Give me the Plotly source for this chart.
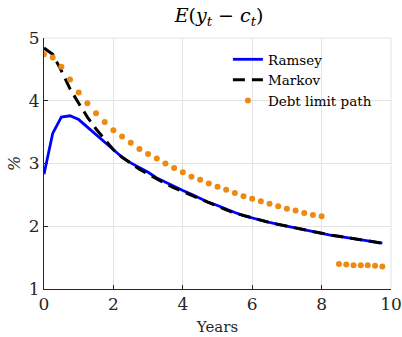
import plotly.graph_objects as go

# ---- data ----
t = [0, 0.25, 0.5, 0.75, 1.0, 1.25, 1.5, 1.75, 2.0, 2.25, 2.5, 2.75, 3.0, 3.25, 3.5, 3.75,
     4.0, 4.25, 4.5, 4.75, 5.0, 5.25, 5.5, 5.75, 6.0, 6.25, 6.5, 6.75, 7.0, 7.25, 7.5, 7.75,
     8.0, 8.25, 8.5, 8.75, 9.0, 9.25, 9.5, 9.75]
ramsey = [2.83, 3.48, 3.74, 3.76, 3.70, 3.58, 3.45, 3.33, 3.21, 3.10, 3.01, 2.94, 2.86, 2.77,
          2.70, 2.63, 2.57, 2.51, 2.44, 2.38, 2.33, 2.27, 2.22, 2.17, 2.13, 2.10, 2.06, 2.03,
          2.00, 1.97, 1.94, 1.91, 1.89, 1.86, 1.84, 1.82, 1.79, 1.77, 1.75, 1.73]
markov = [4.84, 4.74, 4.48, 4.19, 3.96, 3.74, 3.55, 3.38, 3.22, 3.10, 3.00, 2.91, 2.83, 2.75,
          2.68, 2.61, 2.55, 2.49, 2.43, 2.37, 2.32, 2.26, 2.21, 2.17, 2.13, 2.09, 2.06, 2.03,
          2.00, 1.97, 1.94, 1.91, 1.88, 1.86, 1.84, 1.82, 1.80, 1.77, 1.75, 1.73]
debt_t = [0, 0.25, 0.5, 0.75, 1.0, 1.25, 1.5, 1.75, 2.0, 2.25, 2.5, 2.75, 3.0, 3.25, 3.5, 3.75,
          4.0, 4.25, 4.5, 4.75, 5.0, 5.25, 5.5, 5.75, 6.0, 6.25, 6.5, 6.75, 7.0, 7.25, 7.5, 7.75,
          8.0, 8.5, 8.71, 8.92, 9.13, 9.33, 9.54, 9.75]
debt = [4.74, 4.69, 4.54, 4.34, 4.13, 3.96, 3.80, 3.66, 3.53, 3.43, 3.33, 3.23, 3.15, 3.08,
        3.00, 2.93, 2.86, 2.79, 2.74, 2.68, 2.63, 2.58, 2.53, 2.48, 2.44, 2.40, 2.36, 2.32,
        2.28, 2.25, 2.21, 2.18, 2.16, 1.40, 1.39, 1.38, 1.38, 1.38, 1.37, 1.36]
x_ticks = [0, 2, 4, 6, 8, 10]
y_ticks = [1, 2, 3, 4, 5]

serif = "DejaVu Serif"

fig = go.Figure()
fig.add_trace(go.Scatter(x=t, y=ramsey, mode="lines", name="Ramsey",
                         line=dict(color="#0000FF", width=2.8)))
fig.add_trace(go.Scatter(x=t, y=markov, mode="lines", name="Markov",
                         line=dict(color="#000000", width=3, dash="12px,7px")))
fig.add_trace(go.Scatter(x=debt_t, y=debt, mode="markers", name="Debt limit path",
                         marker=dict(color="#EC8A12", size=6)))

axis_common = dict(showgrid=True, gridcolor="#E3E3E3", gridwidth=1,
                   showline=True, linecolor="#262626", linewidth=1,
                   ticks="inside", ticklen=4, tickcolor="#262626",
                   zeroline=False, mirror=False, automargin=False,
                   tickfont=dict(family=serif, size=17, color="#262626"))

fig.update_layout(
    width=402, height=337,
    margin=dict(l=44, r=11, t=38, b=48),
    paper_bgcolor="white", plot_bgcolor="white",
    title=dict(text="<i>E</i>(<i>y<sub>t</sub></i> − <i>c<sub>t</sub></i>)",
               x=0.545, xanchor="center", y=0.955, yanchor="middle",
               font=dict(family=serif, size=19, color="#000000")),
    xaxis=dict(range=[0, 10], tickvals=x_ticks,
               title=dict(text="Years", font=dict(family=serif, size=15, color="#262626"), standoff=8),
               **axis_common),
    yaxis=dict(range=[1, 5], tickvals=y_ticks,
               title=dict(text="<i>%</i>", font=dict(family=serif, size=16, color="#262626"), standoff=4),
               **axis_common),
    legend=dict(x=0.53, y=0.976, xanchor="left", yanchor="top",
                bgcolor="rgba(0,0,0,0)", borderwidth=0,
                font=dict(family=serif, size=13.5, color="#000000"),
                itemwidth=30, tracegroupgap=0),
    showlegend=True,
)
fig.add_shape(type="line", xref="paper", yref="paper", x0=0, x1=1, y0=1, y1=1,
              line=dict(color="#E3E3E3", width=1))
fig.add_shape(type="line", xref="paper", yref="paper", x0=1, x1=1, y0=0, y1=1,
              line=dict(color="#E3E3E3", width=1))

fig.write_html("out.html", config={"displayModeBar": False},
               post_script="document.body.style.margin='0px';")
